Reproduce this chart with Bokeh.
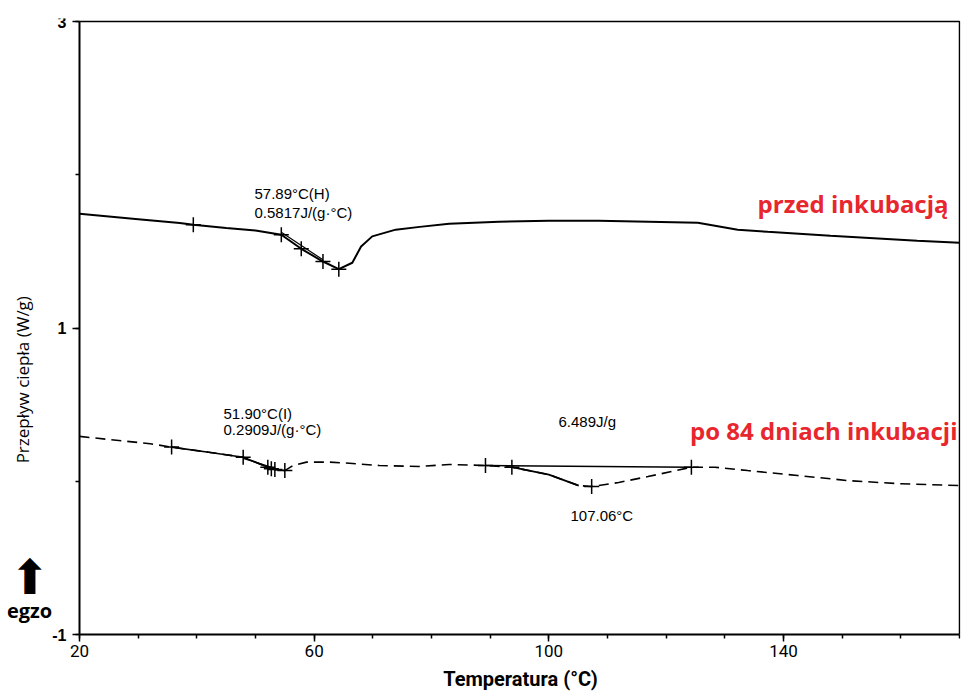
from bokeh.plotting import figure
from bokeh.models import Range1d, FixedTicker, Label
from bokeh.embed import file_html
from bokeh.resources import INLINE

# ---- data ----
# upper curve: "przed inkubacją" (solid)
T_up = [20, 30, 37.1, 39.4, 45, 50, 54.4, 57.8, 61.5, 64.2, 66.5, 68, 69.9, 73.9, 78,
        83, 91.5, 100, 108.5, 117, 125.4, 132.2, 137.3, 148, 162.8, 170]
V_up = [1.746, 1.71, 1.685, 1.674, 1.652, 1.636, 1.609, 1.517, 1.434, 1.384, 1.426, 1.532,
        1.598, 1.642, 1.66, 1.68, 1.694, 1.70, 1.70, 1.694, 1.687, 1.641, 1.628, 1.602,
        1.569, 1.556]
T_up_marks = [39.4, 54.4, 57.8, 61.5, 64.2]
V_up_marks = [1.674, 1.609, 1.517, 1.434, 1.384]
T_up_tan = [54.4, 61.5]
V_up_tan = [1.625, 1.445]

# lower curve: "po 84 dniach inkubacji" (dashed)
T_lo = [20, 32.05, 35.7, 42, 47.9, 52.1, 52.7, 53.3, 55.0, 56.4, 58.7, 62.6, 66.0, 71.1,
        77.9, 83, 89.2, 93.7, 100, 105.1, 107.3, 111.9, 116.9, 124.3, 128.3, 133.9, 142.4,
        150.9, 159.4, 170]
V_lo = [0.293, 0.245, 0.223, 0.19, 0.157, 0.092, 0.082, 0.077, 0.070, 0.103, 0.125, 0.125,
        0.118, 0.103, 0.097, 0.110, 0.103, 0.092, 0.044, -0.028, -0.034, -0.008, 0.031,
        0.092, 0.092, 0.070, 0.038, 0.005, -0.015, -0.028]
T_lo_marks = [35.7, 47.9, 52.1, 52.7, 53.3, 55.0, 89.2, 93.7, 107.3, 124.3]
V_lo_marks = [0.223, 0.157, 0.092, 0.082, 0.077, 0.070, 0.103, 0.092, -0.034, 0.092]
T_lo_tan = [47.9, 53.3]
V_lo_tan = [0.150, 0.085]
T_peak_base = [89.2, 124.3]
V_peak_base = [0.103, 0.092]

X_MIN, X_MAX = 20, 170
Y_MIN, Y_MAX = -1, 3
x_major = [20, 60, 100, 140]
x_minor = list(range(20, 171, 10))
y_major = [-1, 1, 3]
y_minor = [-1, 0, 1, 2, 3]

p = figure(width=962, height=692, output_backend="svg", toolbar_location=None,
           x_range=Range1d(6.875, 170.17), y_range=Range1d(-1.378, 3.0196),
           min_border_left=2, min_border_right=2, min_border_top=18, min_border_bottom=0)
p.background_fill_color = "white"
p.border_fill_color = "white"
p.outline_line_color = None
p.xgrid.visible = False
p.ygrid.visible = False

for ax in (p.xaxis[0], p.yaxis[0]):
    ax.axis_line_width = 2
    ax.axis_line_color = "black"
    ax.major_tick_out = 7
    ax.major_tick_in = 0
    ax.minor_tick_out = 4
    ax.minor_tick_in = 0
    ax.major_tick_line_width = 1.5
    ax.minor_tick_line_width = 1.5
    ax.major_tick_line_color = "black"
    ax.minor_tick_line_color = "black"
    ax.major_label_text_color = "black"

p.xaxis.bounds = (X_MIN, X_MAX)
p.yaxis.bounds = (Y_MIN, Y_MAX)
p.xaxis.fixed_location = Y_MIN
p.yaxis.fixed_location = X_MIN
p.xaxis.ticker = FixedTicker(ticks=x_major, minor_ticks=x_minor)
p.yaxis.ticker = FixedTicker(ticks=y_major, minor_ticks=y_minor)
p.yaxis.major_label_overrides = {-1: "-1", 1: "1", 3: "3"}
p.xaxis.major_label_text_font = "Roboto"
p.xaxis.major_label_text_font_size = "17px"
p.xaxis.major_label_standoff = 3
p.yaxis.major_label_text_font = "Liberation Sans"
p.yaxis.major_label_text_font_size = "16px"
p.yaxis.major_label_text_font_style = "bold"
p.yaxis.major_label_standoff = 6

# x-axis title
p.add_layout(Label(x=95.17, y=-1.287, text="Temperatura (°C)", text_font="Roboto",
                   text_font_size="20px", text_font_style="bold", text_color="black",
                   text_align="center", text_baseline="middle"))

# frame (top and right border)
p.line([X_MIN, X_MAX, X_MAX], [Y_MAX, Y_MAX, Y_MIN], line_color="black", line_width=1.5)

# curves
p.line(T_up, V_up, line_color="black", line_width=2)
p.line(T_up_tan, V_up_tan, line_color="black", line_width=1.2)
p.scatter(T_up_marks, V_up_marks, marker="cross", size=15, line_color="black", line_width=1.5)

p.line(T_lo, V_lo, line_color="black", line_width=1.6, line_dash="10 6")
p.line(T_lo[2:9], V_lo[2:9], line_color="black", line_width=1.6)
p.line(T_lo[17:20], V_lo[17:20], line_color="black", line_width=1.8)
p.line(T_lo_tan, V_lo_tan, line_color="black", line_width=1.2)
p.line(T_peak_base, V_peak_base, line_color="black", line_width=1.6)
p.scatter(T_lo_marks, V_lo_marks, marker="cross", size=15, line_color="black", line_width=1.5)

small = dict(text_font="Liberation Sans", text_font_size="15px", text_color="black",
             text_baseline="middle", text_align="left")
p.add_layout(Label(x=49.83, y=1.878, text="57.89°C(H)", **small))
p.add_layout(Label(x=49.83, y=1.754, text="0.5817J/(g·°C)", **small))
p.add_layout(Label(x=44.55, y=0.442, text="51.90°C(I)", **small))
p.add_layout(Label(x=44.55, y=0.341, text="0.2909J/(g·°C)", **small))
p.add_layout(Label(x=101.65, y=0.390, text="6.489J/g", **small))
p.add_layout(Label(x=103.69, y=-0.224, text="107.06°C", **small))

red = dict(text_font="Open Sans", text_font_size="24px", text_font_style="bold",
           text_color="#e8262d", text_align="right", text_baseline="alphabetic")
p.add_layout(Label(x=168.13, y=1.812, text="przed inkubacją", **red))
p.add_layout(Label(x=169.66, y=0.331, text="po 84 dniach inkubacji", **red))

p.add_layout(Label(x=10.28, y=0.677, text="Przepływ ciepła  (W/g)", angle=1.5708,
                   text_font="Open Sans", text_font_size="17px", text_color="black",
                   text_align="center", text_baseline="middle"))
p.add_layout(Label(x=11.48, y=-0.622, text="⬆", text_font="DejaVu Sans",
                   text_font_size="48px", text_color="black",
                   text_align="center", text_baseline="middle"))
p.add_layout(Label(x=11.48, y=-0.843, text="egzo", text_font="Open Sans",
                   text_font_size="20px", text_font_style="bold", text_color="black",
                   text_align="center", text_baseline="middle"))

open("out.html", "w").write(file_html(p, INLINE))
